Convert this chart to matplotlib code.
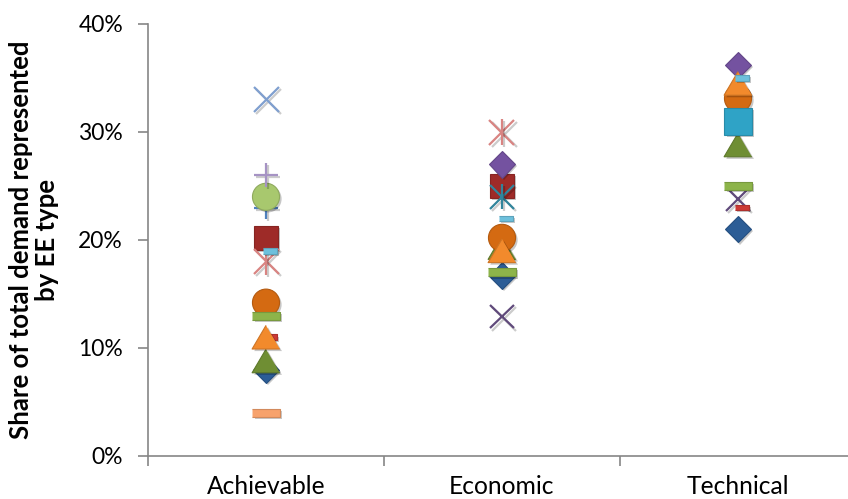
import numpy as np
import matplotlib
matplotlib.use("Agg")
import matplotlib.pyplot as plt
import matplotlib.patheffects as pe

plt.rcParams['font.family'] = ['Lato', 'DejaVu Sans']

categories = ["Achievable", "Economic", "Technical"]
y_ticks = [0, 10, 20, 30, 40]
y_tick_labels = ["0%", "10%", "20%", "30%", "40%"]
y_label = "Share of total demand represented\nby EE type"

nan = np.nan
s01 = [8.0, 16.7, 21.0]
s02 = [20.2, 25.0, nan]
s03 = [8.8, 19.3, 28.8]
s04 = [nan, 12.9, 23.8]
s05 = [nan, 24.0, nan]
s06 = [14.2, 20.2, 33.1]
s07 = [23.0, nan, nan]
s08 = [13.0, 17.0, 25.0]
s09 = [11.0, nan, 23.0]
s10 = [nan, 27.0, 36.2]
s11 = [nan, nan, 31.0]
s12 = [11.0, 19.0, 34.5]
s13 = [33.0, nan, nan]
s14 = [18.0, 30.0, nan]
s15 = [24.0, nan, nan]
s16 = [26.0, nan, nan]
s17 = [19.0, 22.0, 35.0]
s18 = [4.0, nan, nan]
series = [s01, s02, s03, s04, s05, s06, s07, s08, s09,
          s10, s11, s12, s13, s14, s15, s16, s17, s18]

# marker styles (Excel default cycle)
TRI = [(0, 0.85), (-1, -0.85), (1, -0.85)]
DASH = [(-1, -0.3), (1, -0.3), (1, 0.3), (-1, 0.3)]
SDASH = [(-0.27, -0.25), (1, -0.25), (1, 0.25), (-0.27, 0.25)]
styles = [
    ("D", "#2C5D96", 13.5),
    ("s", "#9E2B28", 17.5),
    (TRI, "#6F8E33", 20),
    ("x", "#604A7B", 17),
    ("ast", "#31859C", 17),
    ("o", "#D46A12", 19.5),
    ("+", "#4F81BD", 17),
    (DASH, "#8DB44A", 19.5),
    (SDASH, "#CC3A36", 15.8),
    ("D", "#7452A0", 13.5),
    ("s", "#2FA3C6", 19.5),
    (TRI, "#F28A2C", 20),
    ("x", "#7F9FCF", 18),
    ("ast", "#D98482", 18),
    ("o", "#A8C86E", 19.5),
    ("+", "#A693C4", 17),
    (SDASH, "#6DC0DC", 15.8),
    (DASH, "#F7A26C", 19.5),
]

def darker(c, f=0.8):
    r, g, b = matplotlib.colors.to_rgb(c)
    return (r * f, g * f, b * f)

fig = plt.figure(figsize=(8.48, 4.99), dpi=100)
ax = fig.add_axes([148 / 848, 43 / 499, 708 / 848, 432 / 499])

xs = np.arange(len(categories)) + 0.5
fill_shadow = [pe.SimplePatchShadow(offset=(1.5, -1.5), shadow_rgbFace="#000000", alpha=0.22), pe.Normal()]
line_shadow = [pe.SimpleLineShadow(offset=(1.5, -1.5), shadow_color="#000000", alpha=0.2), pe.Normal()]

for vals, (mk, col, ms) in zip(series, styles):
    v = np.array(vals, dtype=float)
    if mk == "ast":
        ax.plot(xs, v, linestyle="none", marker="x", markersize=ms, color=col,
                markeredgewidth=1.6, path_effects=line_shadow, clip_on=False)
        ax.plot(xs, v, linestyle="none", marker="|", markersize=ms * 1.05, color=col,
                markeredgewidth=1.6, path_effects=line_shadow, clip_on=False)
    elif mk in ("x", "+"):
        ax.plot(xs, v, linestyle="none", marker=mk, markersize=ms, color=col,
                markeredgewidth=1.6, path_effects=line_shadow, clip_on=False)
    else:
        ax.plot(xs, v, linestyle="none", marker=mk, markersize=ms,
                markerfacecolor=col, markeredgecolor=darker(col, 0.85),
                markeredgewidth=0.8, path_effects=fill_shadow, clip_on=False)

ax.set_xlim(0, 3)
ax.set_ylim(0, 40)
ax.set_yticks(y_ticks)
ax.set_yticklabels(y_tick_labels)
ax.set_xticks([0, 1, 2, 3])
ax.set_xticklabels([])
ax.set_xticks(xs, minor=True)
ax.set_xticklabels(categories, minor=True)

for s in ("top", "right"):
    ax.spines[s].set_visible(False)
for s in ("left", "bottom"):
    ax.spines[s].set_color("#868686")
    ax.spines[s].set_linewidth(1.2)

ax.tick_params(axis="y", which="major", direction="out", length=7, width=1.2,
               color="#868686", labelsize=16.5, pad=11, labelcolor="#000000")
ax.tick_params(axis="x", which="major", direction="out", length=7, width=1.2,
               color="#868686")
ax.tick_params(axis="x", which="minor", length=0, labelsize=17.7, pad=14,
               labelcolor="#000000")

fig.text(34 / 848, 1 - 240 / 499, y_label, rotation=90, ha="center", va="center",
         multialignment="center", fontsize=18.5, fontweight="bold", linespacing=1.1)

fig.savefig("out.png", dpi=100)
